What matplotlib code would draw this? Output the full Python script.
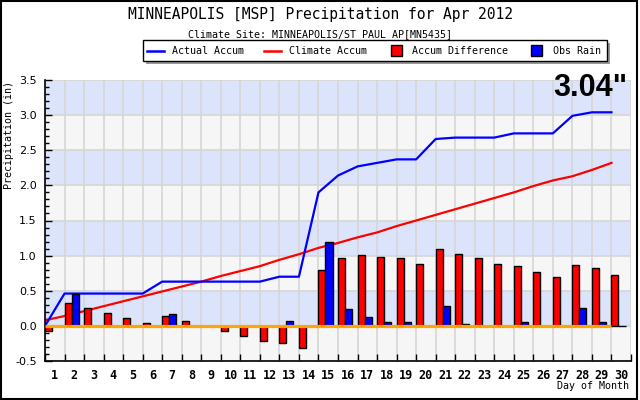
import numpy as np
import matplotlib
matplotlib.use("Agg")
import matplotlib.pyplot as plt
from matplotlib.patches import Rectangle
from matplotlib.lines import Line2D
from matplotlib.ticker import MultipleLocator, FixedLocator, NullFormatter

plt.rcParams["axes.unicode_minus"] = False

# Data (April 2012, MSP)
days = np.arange(1, 31)
obs_rain = [0.00, 0.46, 0.00, 0.00, 0.00, 0.00, 0.17, 0.00, 0.00, 0.00,
            0.00, 0.00, 0.07, 0.00, 1.20, 0.24, 0.13, 0.05, 0.05, 0.00,
            0.29, 0.02, 0.00, 0.00, 0.06, 0.00, 0.00, 0.25, 0.05, 0.00]
actual_accum = [0.00, 0.46, 0.46, 0.46, 0.46, 0.46, 0.63, 0.63, 0.63, 0.63,
                0.63, 0.63, 0.70, 0.70, 1.90, 2.14, 2.27, 2.32, 2.37, 2.37,
                2.66, 2.68, 2.68, 2.68, 2.74, 2.74, 2.74, 2.99, 3.04, 3.04]
climate_accum = [0.08, 0.14, 0.21, 0.28, 0.35, 0.42, 0.49, 0.56, 0.63, 0.71,
                 0.78, 0.85, 0.94, 1.02, 1.11, 1.18, 1.26, 1.33, 1.42, 1.50,
                 1.58, 1.66, 1.74, 1.82, 1.90, 1.99, 2.07, 2.13, 2.22, 2.32]
accum_diff = [-0.08, 0.32, 0.25, 0.18, 0.11, 0.04, 0.14, 0.07, 0.00, -0.08,
              -0.15, -0.22, -0.24, -0.32, 0.79, 0.96, 1.01, 0.98, 0.96, 0.88,
              1.09, 1.03, 0.96, 0.88, 0.85, 0.76, 0.69, 0.86, 0.82, 0.72]

W, H = 640, 400


def fx(x):
    return x / W


def fy(y):
    return 1 - y / H


fig = plt.figure(figsize=(6.4, 4), dpi=100)
ax = fig.add_axes([fx(45), fy(361), fx(631 - 45), (361 - 80) / H])

# striped background
for i, lo in enumerate(np.arange(-0.5, 3.5, 0.5)):
    ax.axhspan(lo, lo + 0.5, color="#f6f6f6" if i % 2 == 0 else "#dce4fc",
               lw=0, zorder=0)
ax.grid(True, which="major", color="#d6d6d6", lw=1.2, zorder=0.5)
ax.set_axisbelow(True)

# lines (drawn at the start of each day slot)
ax.plot(days - 1, climate_accum, color="#ff0000", lw=1.6, zorder=2)
ax.plot(days - 1, actual_accum, color="#0000ff", lw=1.6, zorder=2)

# bars
bw = 0.36
ax.bar(days - 1, accum_diff, width=bw, align="edge", color="#ff0000",
       edgecolor="black", lw=1, zorder=3)
ax.bar(days - 1 + bw, obs_rain, width=bw, align="edge", color="#0000ff",
       edgecolor="black", lw=1, zorder=3)
ax.plot(days - 1, np.zeros(len(days)), color="#ffa500", lw=2.3, zorder=4,
        solid_capstyle="butt")

ax.set_xlim(0, 30)
ax.set_ylim(-0.5, 3.5)

# ticks
ax.xaxis.set_major_locator(MultipleLocator(1))
ax.xaxis.set_major_formatter(NullFormatter())
ax.xaxis.set_minor_locator(FixedLocator(days - 0.5))
ax.set_xticklabels([str(d) for d in days], minor=True)
ax.tick_params(axis="x", which="major", direction="in", length=5, width=1)
ax.tick_params(axis="x", which="minor", length=0, pad=6)
for lab in ax.get_xticklabels(minor=True):
    lab.set_fontfamily("DejaVu Sans Mono")
    lab.set_fontweight("bold")
    lab.set_fontsize(8.5)

ax.yaxis.set_major_locator(MultipleLocator(0.5))
ax.yaxis.set_minor_locator(MultipleLocator(0.1))
ax.yaxis.set_major_formatter(plt.FormatStrFormatter("%.1f"))
ax.tick_params(axis="y", which="major", direction="in", length=5, width=1,
               labelsize=8, pad=6)
ax.tick_params(axis="y", which="minor", direction="in", length=3, width=1)

for s in ["top", "right"]:
    ax.spines[s].set_visible(False)
for s in ["left", "bottom"]:
    ax.spines[s].set_linewidth(1.2)

mono = "DejaVu Sans Mono"
fig.text(0.5, fy(14), "MINNEAPOLIS [MSP] Precipitation for Apr 2012",
         ha="center", va="center", family=mono, fontsize=10.5)
fig.text(0.5, fy(34), "Climate Site: MINNEAPOLIS/ST PAUL AP[MN5435]",
         ha="center", va="center", family=mono, fontsize=7.2)
fig.text(fx(9), fy(135), "Precipitation (in)", rotation=90, ha="center",
         va="center", family=mono, fontsize=7.2)
fig.text(fx(629), fy(386), "Day of Month", ha="right", va="center",
         family=mono, fontsize=7.2)
fig.text(fx(627), fy(73), '%.2f"' % actual_accum[-1], ha="right", va="top",
         family="Liberation Sans", fontweight="bold", fontsize=22)

# legend box with shadow
fig.add_artist(Rectangle((fx(146), fy(64)), fx(464), 21 / H,
                         transform=fig.transFigure, fc="#999999", lw=0))
fig.add_artist(Rectangle((fx(143), fy(61)), fx(464), 21 / H,
                         transform=fig.transFigure, fc="white", ec="black",
                         lw=1))
ly = fy(50.5)
fig.add_artist(Line2D([fx(147), fx(164)], [ly, ly], color="#0000ff", lw=1.8,
                      transform=fig.transFigure))
fig.add_artist(Line2D([fx(264), fx(281)], [ly, ly], color="#ff0000", lw=1.8,
                      transform=fig.transFigure))
fig.add_artist(Rectangle((fx(391), fy(56)), fx(11), 11 / H, fc="#ff0000",
                         ec="black", lw=1, transform=fig.transFigure))
fig.add_artist(Rectangle((fx(531), fy(56)), fx(11), 11 / H, fc="#0000ff",
                         ec="black", lw=1, transform=fig.transFigure))
for x, txt in [(172, "Actual Accum"), (289, "Climate Accum"),
               (412, "Accum Difference"), (553, "Obs Rain")]:
    fig.text(fx(x), ly, txt, ha="left", va="center", family=mono,
             fontsize=7.2)

# outer border
fig.add_artist(Rectangle((0.001, 0.002), 0.995, 0.996, transform=fig.transFigure,
                         fill=False, ec="black", lw=1.5))

fig.savefig("out.png", dpi=100)
